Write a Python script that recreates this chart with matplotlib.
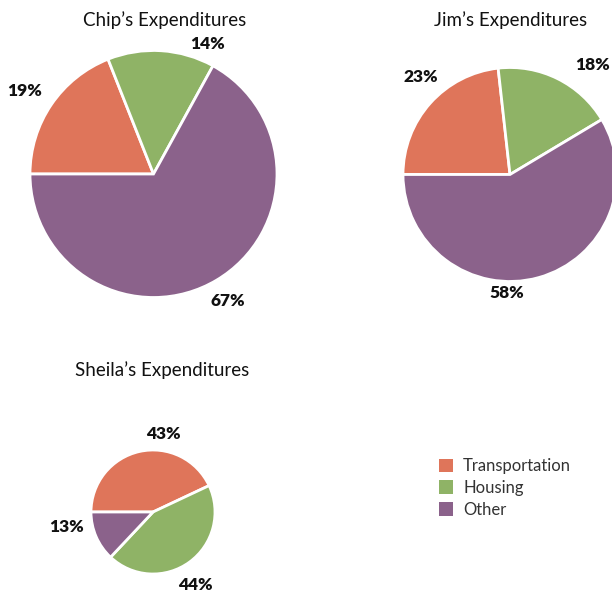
import matplotlib.pyplot as plt
import numpy as np

plt.rcParams['font.family'] = ['Lato', 'DejaVu Sans']

categories = ['Transportation', 'Housing', 'Other']
people = ['Chip\u2019s Expenditures', 'Jim\u2019s Expenditures', 'Sheila\u2019s Expenditures']
chip = [19, 14, 67]
jim = [23, 18, 58]
sheila = [43, 44, 13]

colors = ['#df755a', '#8fb366', '#8b628b']

W, H = 612, 592
fig = plt.figure(figsize=(W / 100, H / 100), dpi=100)
ax = fig.add_axes([0, 0, 1, 1])

# layout in pixel coords (y measured from top): centre x, centre y, radius
layout = [(153.5, 174, 123.5), (510, 174.5, 107), (153, 512, 62)]
titles_xy = [(165, 20), (511, 20), (162, 370)]
# label angle (deg) and distance (in radii) for each slice
label_pos = [
    [(147, 1.24), (67.5, 1.14), (-59.5, 1.19)],
    [(132.5, 1.24), (53, 1.28), (-91.5, 1.11)],
    [(82.5, 1.27), (-60, 1.36), (-170, 1.42)],
]

wedges_first = None
for vals, title, (cx, cy, r), (tx, ty), lp in zip(
        [chip, jim, sheila], people, layout, titles_xy, label_pos):
    cy_up = H - cy
    wedges, _ = ax.pie(vals, colors=colors, startangle=180, counterclock=False,
                       center=(cx, cy_up), radius=r, frame=True,
                       wedgeprops=dict(edgecolor='white', linewidth=2))
    if wedges_first is None:
        wedges_first = wedges
    for v, (ang, d) in zip(vals, lp):
        a = np.deg2rad(ang)
        ax.text(cx + d * r * np.cos(a), cy_up + d * r * np.sin(a), f'{v}%',
                ha='center', va='center', fontsize=12.5, fontweight='heavy',
                color='#111111')
    ax.text(tx, H - ty, title, ha='center', va='center', fontsize=13.5,
            color='#111111')

ax.set_xlim(0, W)
ax.set_ylim(0, H)
ax.set_aspect('equal')
ax.axis('off')

ax.legend(wedges_first, categories, loc='upper left',
          bbox_to_anchor=(424 / W, 1 - 443 / H), bbox_transform=fig.transFigure,
          frameon=False, fontsize=12, handlelength=0.85, handleheight=0.85,
          handletextpad=0.6, labelspacing=0.35, labelcolor='#333333')
for h in ax.get_legend().legend_handles:
    h.set_edgecolor('none')

fig.savefig('out.png', dpi=100)
